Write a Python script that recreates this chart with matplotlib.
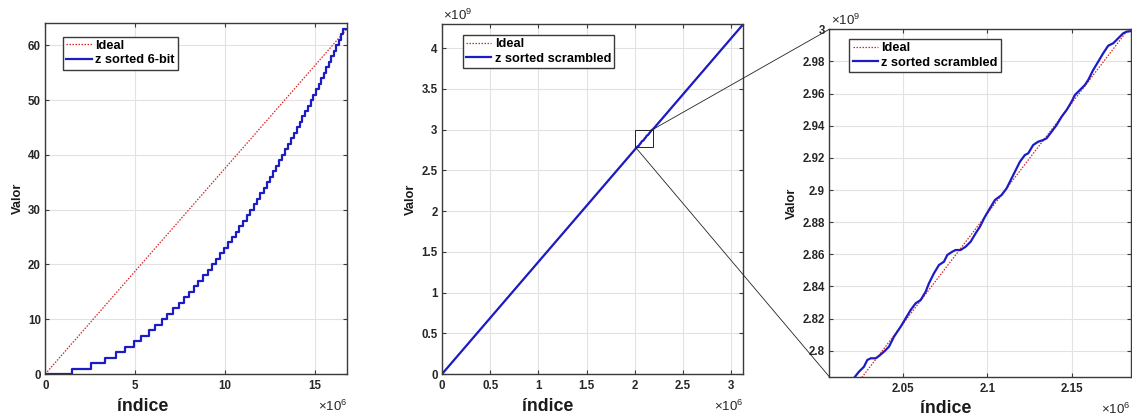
import matplotlib
matplotlib.use("Agg")
import matplotlib.pyplot as plt
from matplotlib.patches import Rectangle, ConnectionPatch
from matplotlib.ticker import FuncFormatter

plt.rcParams["font.family"] = ["Liberation Sans", "DejaVu Sans"]
plt.rcParams["mathtext.default"] = "regular"

# ---------------- data ----------------
# 6-bit z-sorted values: level k holds from step_start[k-1] to step_start[k] (index in millions)
n_6bit = 2 ** 24
levels_6bit = list(range(64))
step_starts_6bit = [
    1.483, 2.569, 3.316, 3.924, 4.449, 4.919, 5.348, 5.744, 6.115, 6.465,
    6.797, 7.113, 7.416, 7.707, 7.987, 8.258, 8.520, 8.775, 9.022, 9.262,
    9.497, 9.726, 9.949, 10.168, 10.382, 10.592, 10.798, 10.999, 11.197, 11.392,
    11.584, 11.772, 11.958, 12.140, 12.320, 12.497, 12.672, 12.844, 13.015, 13.183,
    13.348, 13.512, 13.674, 13.834, 13.992, 14.148, 14.303, 14.456, 14.607, 14.757,
    14.906, 15.052, 15.198, 15.342, 15.485, 15.626, 15.766, 15.905, 16.043, 16.179,
    16.315, 16.449, 16.582,
]
ideal_6bit_max = 63

# scrambled z-sorted: full range
n_scr = 3.126e6
max_scr = 2 ** 32

# scrambled z-sorted: detail segment (index in millions, value in billions)
scr_idx = [
    2.02172, 2.02408, 2.02704, 2.02899, 2.03101, 2.03396, 2.03592, 2.03888, 2.04183, 2.04479,
    2.04675, 2.04876, 2.05172, 2.05467, 2.05763, 2.06059, 2.06355, 2.06550, 2.06846, 2.07142,
    2.07438, 2.07633, 2.07929, 2.08130, 2.08426, 2.08722, 2.09018, 2.09314, 2.09568, 2.09864,
    2.10160, 2.10456, 2.10852, 2.11148, 2.11343, 2.11639, 2.11935, 2.12231, 2.12426, 2.12722,
    2.13018, 2.13314, 2.13515, 2.13811, 2.14107, 2.14402, 2.14698, 2.14994, 2.15189, 2.15485,
    2.15781, 2.15976, 2.16272, 2.16568, 2.16864, 2.17160, 2.17456, 2.17751, 2.18047, 2.18249,
    2.18544,
]
scr_val = [
    2.78382, 2.78693, 2.79004, 2.79421, 2.79527, 2.79527, 2.79670, 2.79938, 2.80249, 2.80871,
    2.81182, 2.81493, 2.82016, 2.82533, 2.82950, 2.83155, 2.83672, 2.84194, 2.84816, 2.85333,
    2.85538, 2.85955, 2.86160, 2.86266, 2.86266, 2.86472, 2.86783, 2.87306, 2.87716, 2.88338,
    2.88861, 2.89378, 2.89689, 2.90106, 2.90516, 2.91139, 2.91761, 2.92178, 2.92284, 2.92800,
    2.93006, 2.93111, 2.93217, 2.93628, 2.94045, 2.94561, 2.94978, 2.95495, 2.95912, 2.96223,
    2.96534, 2.96845, 2.97467, 2.97984, 2.98507, 2.98979, 2.99129, 2.99440, 2.99751, 2.99850,
    2.99894,
]
zoom_xlim = (2.0065, 2.1849)
zoom_ylim = (2.7838, 3.0)

left_xticks = [0, 5, 10, 15]
left_yticks = [0, 10, 20, 30, 40, 50, 60]
mid_xticks = [0, 0.5, 1, 1.5, 2, 2.5, 3]
mid_yticks = [0, 0.5, 1, 1.5, 2, 2.5, 3, 3.5, 4]
right_xticks = [2.05, 2.1, 2.15]
right_yticks = [2.8, 2.82, 2.84, 2.86, 2.88, 2.9, 2.92, 2.94, 2.96, 2.98, 3.0]

# ---------------- style ----------------
BLUE = "#1c1cc4"
RED = "#d42424"
SPINE = "#3a3a3a"
GRID = "#e2e2e2"
DOTS = (0, (1.2, 1.2))


def style_axes(ax, xticks, yticks, label_x):
    ax.set_xticks(xticks)
    ax.set_yticks(yticks)
    fmt = FuncFormatter(lambda v, p: "%g" % v)
    ax.xaxis.set_major_formatter(fmt)
    ax.yaxis.set_major_formatter(fmt)
    ax.tick_params(direction="in", length=3.2, width=0.8, color=SPINE,
                   top=True, right=True, labelsize=8.3)
    ax.tick_params(axis="x", pad=4.5)
    ax.tick_params(axis="y", pad=3.2)
    for lab in ax.get_xticklabels() + ax.get_yticklabels():
        lab.set_fontweight("bold")
        lab.set_color("#262626")
    for s in ax.spines.values():
        s.set_color(SPINE)
        s.set_linewidth(1.0)
    ax.grid(True, color=GRID, linewidth=0.8)
    ax.set_axisbelow(True)
    ax.set_xlabel("índice", fontsize=12.8, fontweight="bold", color="#1a1a1a")
    ax.xaxis.set_label_coords(label_x, -0.105)
    ax.xaxis.label.set_va("baseline")
    ax.set_ylabel("Valor", fontsize=9.3, fontweight="bold", color="#1a1a1a", labelpad=3)
    ax.text(1.0, -0.106, "×10$^{6}$", transform=ax.transAxes, ha="right",
            va="baseline", fontsize=9.5, color="#262626")


def add_legend(ax, labels, anchor):
    leg = ax.legend(labels, loc="upper left", bbox_to_anchor=anchor,
                    borderaxespad=0, prop={"weight": "bold", "size": 9.2},
                    handlelength=2.0, handletextpad=0.25, labelspacing=0.2,
                    borderpad=0.25, fancybox=False, framealpha=1)
    leg.get_frame().set_edgecolor("#3a3a3a")
    leg.get_frame().set_linewidth(1.0)
    return leg


fig = plt.figure(figsize=(11.32, 4.17), dpi=100)
ax1 = fig.add_axes([0.0400, 0.1031, 0.2665, 0.8410])
ax2 = fig.add_axes([0.3905, 0.1031, 0.2662, 0.8393])
ax3 = fig.add_axes([0.7326, 0.0966, 0.2662, 0.8331])

# ---- left: 6-bit ----
n6 = n_6bit / 1e6
ax1.plot([0, n6], [0, ideal_6bit_max], color=RED, linestyle=DOTS, linewidth=0.9)
ax1.step([0] + step_starts_6bit + [n6], levels_6bit + [levels_6bit[-1]],
         where="post", color=BLUE, linewidth=1.6)
ax1.set_xlim(0, n6)
ax1.set_ylim(0, 64)
style_axes(ax1, left_xticks, left_yticks, 0.324)
add_legend(ax1, ["Ideal", "z sorted 6-bit"], (0.0597, 0.9618))

# ---- middle: scrambled full range ----
ns = n_scr / 1e6
ms = max_scr / 1e9
ax2.plot([0, ns], [0, ms], color=RED, linestyle=DOTS, linewidth=0.9)
ax2.plot([0] + scr_idx + [ns], [0] + scr_val + [ms], color=BLUE, linewidth=1.6)
ax2.set_xlim(0, ns)
ax2.set_ylim(0, ms)
style_axes(ax2, mid_xticks, mid_yticks, 0.352)
add_legend(ax2, ["Ideal", "z sorted scrambled"], (0.0687, 0.9686))
ax2.text(0.003, 1.011, "×10$^{9}$", transform=ax2.transAxes, ha="left",
         va="baseline", fontsize=9.5, color="#262626")
ax2.add_patch(Rectangle((zoom_xlim[0], zoom_ylim[0]),
                        zoom_xlim[1] - zoom_xlim[0], zoom_ylim[1] - zoom_ylim[0],
                        fill=False, edgecolor="#222222", linewidth=0.7, zorder=5))

# ---- right: scrambled detail ----
ax3.plot([0, ns], [0, ms], color=RED, linestyle=DOTS, linewidth=0.9)
ax3.plot(scr_idx, scr_val, color=BLUE, linewidth=1.6)
ax3.set_xlim(*zoom_xlim)
ax3.set_ylim(*zoom_ylim)
style_axes(ax3, right_xticks, right_yticks, 0.387)
add_legend(ax3, ["Ideal", "z sorted scrambled"], (0.0664, 0.972))
ax3.text(0.005, 1.012, "×10$^{9}$", transform=ax3.transAxes, ha="left",
         va="baseline", fontsize=9.5, color="#262626")

# lines linking the detail box to the detail panel
for (xa, ya), (xb, yb) in [((zoom_xlim[1], zoom_ylim[1]), (zoom_xlim[0], zoom_ylim[1])),
                           ((zoom_xlim[0], zoom_ylim[0]), (zoom_xlim[0], zoom_ylim[0]))]:
    con = ConnectionPatch(xyA=(xa, ya), coordsA=ax2.transData,
                          xyB=(xb, yb), coordsB=ax3.transData,
                          color="#222222", linewidth=0.6)
    fig.add_artist(con)

fig.savefig("out.png", dpi=100)
